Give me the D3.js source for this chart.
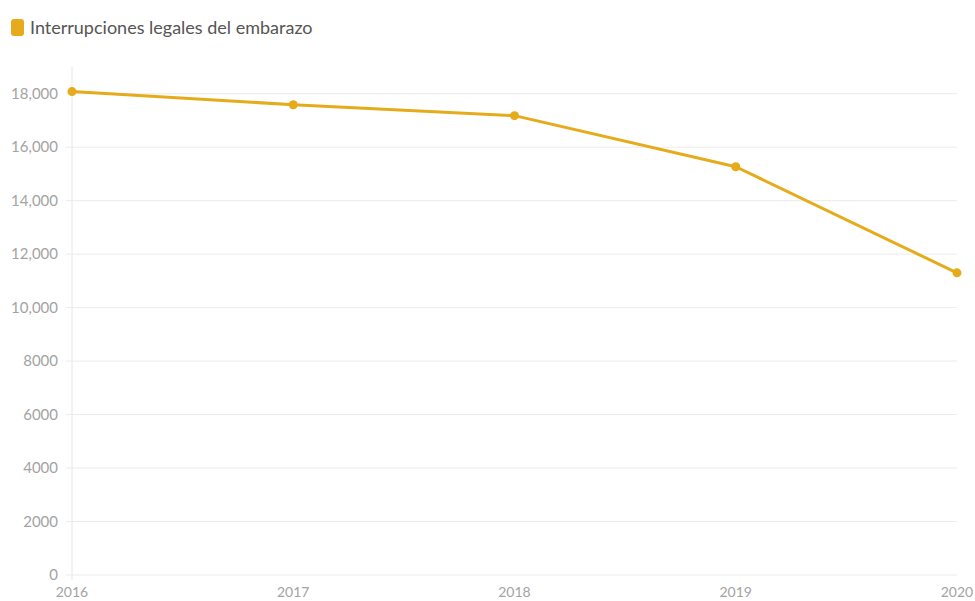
<!DOCTYPE html>
<html><head><meta charset="utf-8">
<script src="https://cdn.jsdelivr.net/npm/d3@7"></script>
<style>body{margin:0;background:#fff;font-family:Lato,"Open Sans",sans-serif;}</style>
</head><body><svg id="c" width="975" height="601"></svg>
<script>
const years = [2016, 2017, 2018, 2019, 2020];
const values = [18080, 17590, 17180, 15270, 11300];
const yTicks = [0, 2000, 4000, 6000, 8000, 10000, 12000, 14000, 16000, 18000];
const seriesName = "Interrupciones legales del embarazo";
const color = "#e5ab1a";

const svg = d3.select("#c");
const m = {l:72, r:18, t:67, b:26};
const W = 975, H = 601;
const x = d3.scalePoint().domain(years).range([m.l, W - m.r]);
const y = d3.scaleLinear().domain([0, 19000]).range([H - m.b, m.t]);
const fmt = v => v >= 10000 ? d3.format(",")(v) : String(v);

svg.append("g").selectAll("line").data(yTicks).join("line")
  .attr("x1", m.l - 6).attr("x2", W - m.r)
  .attr("y1", d => y(d)).attr("y2", d => y(d))
  .attr("stroke", "#ebebeb").attr("stroke-width", 1);
svg.append("line").attr("x1", m.l).attr("x2", m.l).attr("y1", y(19000)).attr("y2", y(0) + 5)
  .attr("stroke", "#e6e6e6");
svg.append("g").selectAll("text").data(yTicks).join("text")
  .attr("x", m.l - 14).attr("y", d => y(d)).attr("dy", "0.35em")
  .attr("text-anchor", "end").attr("fill", "#a3a3a3").attr("font-size", 15)
  .text(fmt);
svg.append("g").selectAll("text").data(years).join("text")
  .attr("x", d => x(d)).attr("y", H - 4)
  .attr("text-anchor", "middle").attr("fill", "#a3a3a3").attr("font-size", 14)
  .text(d => d);

const data = years.map((yr, i) => ({yr, v: values[i]}));
svg.append("path").datum(data)
  .attr("fill", "none").attr("stroke", color).attr("stroke-width", 3)
  .attr("stroke-linejoin", "round")
  .attr("d", d3.line().x(d => x(d.yr)).y(d => y(d.v)));
svg.append("g").selectAll("circle").data(data).join("circle")
  .attr("cx", d => x(d.yr)).attr("cy", d => y(d.v)).attr("r", 4.5)
  .attr("fill", color);

svg.append("rect").attr("x", 11).attr("y", 19).attr("width", 13).attr("height", 17)
  .attr("rx", 3).attr("fill", color);
svg.append("text").attr("x", 30).attr("y", 28).attr("dy", "0.35em")
  .attr("fill", "#555").attr("font-size", 18).text(seriesName);
</script></body></html>
